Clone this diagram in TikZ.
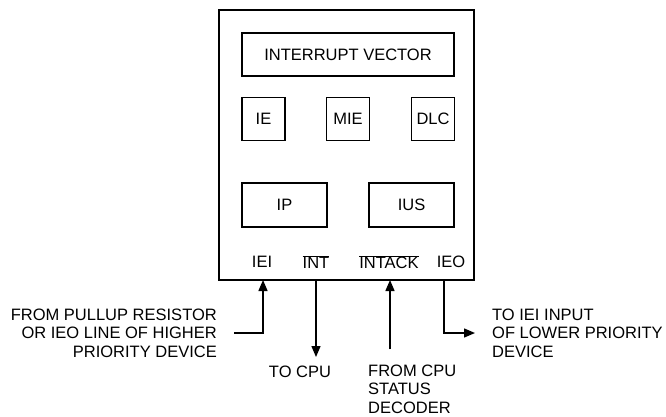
\documentclass[tikz,border=0pt]{standalone}
\usepackage{fontspec}
\setmainfont{Liberation Sans}
\usetikzlibrary{arrows.meta,positioning,calc}

\begin{document}
\begin{tikzpicture}[
    x=1pt, y=-1pt,
    font=\fontsize{16.5}{18.5}\selectfont,
    chipbox/.style = {draw, line width=2.6pt, inner sep=0pt,
                      minimum width=255pt, minimum height=270pt},
    reg/.style     = {draw, line width=1.4pt, inner sep=0pt,
                      minimum height=43pt},
    sreg/.style    = {reg, minimum width=43pt},
    wreg/.style    = {reg, minimum width=85pt, minimum height=44pt},
    pin/.style     = {inner sep=0pt},
    note/.style    = {inner sep=0pt},
    arr/.style     = {-{Triangle[length=11pt,width=9pt]}, line width=1.4pt},
]
\useasboundingbox (0,0) rectangle (666,416);

% ============ chip outline and registers ============
\node[chipbox] (chip) at (346.5,145) {};
\node[reg, minimum width=212pt] (vec) at (348,54.5) {INTERRUPT VECTOR};
\node[sreg] (ie)  at (263.5,119) {IE};
\node[sreg] (mie) at (348,119)   {MIE};
\node[sreg] (dlc) at (433,119)   {DLC};
\node[wreg] (ip)  at (284.5,205) {IP};
\node[wreg] (ius) at (411.5,205) {IUS};

% ============ pin names ============
\node[pin] (iei)    at (262,262) {IEI};
\node[pin] (int)    at (316,262) {$\overline{\mbox{INT}}$};
\node[pin] (intack) at (389,262) {$\overline{\mbox{INTACK}}$};
\node[pin] (ieo)    at (451,262) {IEO};

\coordinate (ieipin)    at (263,280);
\coordinate (intpin)    at (316,280);
\coordinate (intackpin) at (390,280);
\coordinate (ieopin)    at (444,280);

% ============ outside notes ============
\node[note, anchor=east, align=right] (src) at (217,333)
    {FROM PULLUP RESISTOR\\OR IEO LINE OF HIGHER\\PRIORITY DEVICE};
\node[note] (tocpu) at (300,372) {TO CPU};
\node[note, anchor=west, align=left] (decoder) at (368,389)
    {FROM CPU\\STATUS\\DECODER};
\node[note, anchor=west, align=left] (toiei) at (492,333)
    {TO IEI INPUT\\OF LOWER PRIORITY\\DEVICE};

% ============ wires ============
\draw[arr] ([xshift=17pt]src.east) -| (ieipin);
\draw[arr] (intpin) -- ([yshift=15pt]intpin |- tocpu);
\draw[arr] ([yshift=15pt]intackpin |- decoder.north) -- (intackpin);
\draw[arr] (ieopin) |- ([xshift=-17pt]toiei.west);

\end{tikzpicture}
\end{document}
